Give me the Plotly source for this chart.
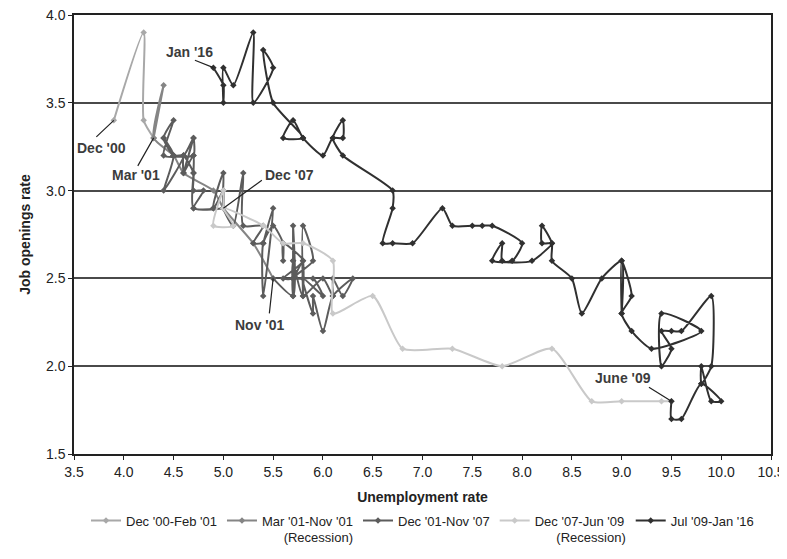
import plotly.graph_objects as go

# Dec '00 - Feb '01 (runs on to Mar '01)
u_s1 = [3.9, 4.2, 4.2, 4.3]
jo_s1 = [3.4, 3.9, 3.4, 3.3]

# Mar '01 - Nov '01 (Recession)
u_s2 = [4.3, 4.4, 4.3, 4.5, 4.6, 4.9, 5.0, 5.3, 5.5]
jo_s2 = [3.3, 3.6, 3.3, 3.2, 3.1, 3.0, 2.9, 2.7, 2.5]

# Dec '01 - Nov '07
u_s3 = [5.5, 5.7,
        5.7, 5.7, 5.7, 5.9, 5.8, 5.8, 5.8, 5.7, 5.7, 5.7, 5.9, 6.0,
        5.8, 5.9, 5.9, 6.0, 6.1, 6.3, 6.2, 6.1, 6.1, 6.0, 5.8, 5.7,
        5.7, 5.6, 5.8, 5.6, 5.6, 5.6, 5.5, 5.4, 5.4, 5.5, 5.4, 5.4,
        5.3, 5.4, 5.2, 5.2, 5.1, 5.0, 5.0, 4.9, 5.0, 5.0, 5.0, 4.9,
        4.7, 4.8, 4.7, 4.7, 4.6, 4.6, 4.7, 4.7, 4.5, 4.4, 4.5, 4.4,
        4.6, 4.5, 4.4, 4.5, 4.4, 4.6, 4.7, 4.6, 4.7, 4.7, 4.7, 5.0]
jo_s3 = [2.5, 2.4,
         2.8, 2.4, 2.5, 2.6, 2.8, 2.4, 2.6, 2.5, 2.6, 2.5, 2.5, 2.4,
         2.5, 2.3, 2.4, 2.2, 2.4, 2.5, 2.4, 2.5, 2.4, 2.5, 2.4, 2.6,
         2.5, 2.5, 2.6, 2.7, 2.6, 2.7, 2.8, 2.7, 2.4, 2.9, 2.7, 2.7,
         2.7, 2.8, 2.8, 3.1, 2.8, 2.9, 3.1, 2.9, 2.9, 2.9, 3.0, 2.9,
         2.9, 3.0, 3.0, 3.1, 3.2, 3.1, 3.3, 3.2, 3.2, 3.3, 3.2, 3.0,
         3.2, 3.2, 3.3, 3.4, 3.2, 3.2, 3.3, 3.1, 3.2, 3.1, 2.9, 2.9]

# Dec '07 - Jun '09 (Recession)
u_s4 = [5.0, 5.0, 4.9, 5.1, 5.0, 5.4, 5.6, 5.8, 6.1, 6.1, 6.5, 6.8, 7.3, 7.8, 8.3, 8.7, 9.0, 9.4, 9.5]
jo_s4 = [2.9, 3.0, 2.8, 2.8, 2.9, 2.8, 2.7, 2.7, 2.6, 2.3, 2.4, 2.1, 2.1, 2.0, 2.1, 1.8, 1.8, 1.8, 1.8]

# Jul '09 - Jan '16
u_s5 = [9.5, 9.5, 9.6, 9.8, 10.0, 9.9, 9.8, 9.8, 9.9, 9.9,
        9.6, 9.5, 9.4, 9.5, 9.4, 9.4, 9.8, 9.3, 9.1, 9.0, 9.1, 9.0, 9.0, 9.0,
        8.8, 8.6, 8.5, 8.3, 8.3, 8.2, 8.2, 8.3, 8.1, 7.8, 7.8, 7.7, 7.9, 8.0,
        7.7, 7.6, 7.5, 7.3, 7.2, 6.9, 6.7, 6.6, 6.7, 6.7,
        6.2, 6.1, 6.2, 6.2, 6.1, 6.0, 5.8, 5.7, 5.6, 5.8, 5.5, 5.4, 5.5,
        5.3, 5.3, 5.1, 5.0, 5.0, 5.0, 4.9]
jo_s5 = [1.8, 1.7, 1.7, 1.9, 1.8, 1.8, 2.0, 1.9, 2.0, 2.4,
         2.2, 2.2, 2.2, 2.1, 2.0, 2.3, 2.2, 2.1, 2.2, 2.3, 2.4, 2.6, 2.3, 2.6,
         2.5, 2.3, 2.5, 2.6, 2.7, 2.8, 2.7, 2.7, 2.6, 2.6, 2.7, 2.6, 2.6, 2.7,
         2.8, 2.8, 2.8, 2.8, 2.9, 2.7, 2.7, 2.7, 2.9, 3.0,
         3.2, 3.3, 3.4, 3.3, 3.3, 3.2, 3.3, 3.4, 3.3, 3.3, 3.5, 3.8, 3.7,
         3.5, 3.9, 3.6, 3.7, 3.5, 3.6, 3.7]

NB = "\u00a0"
series = [
    ("Dec '00-Feb '01", u_s1, jo_s1, "#a8a8a8"),
    ("Mar '01-Nov '01<br>" + NB * 6 + "(Recession)", u_s2, jo_s2, "#858585"),
    ("Dec '01-Nov '07", u_s3, jo_s3, "#5c5c5c"),
    ("Dec '07-Jun '09<br>" + NB * 6 + "(Recession)", u_s4, jo_s4, "#c9c9c9"),
    ("Jul '09-Jan '16", u_s5, jo_s5, "#303030"),
]

FONT = "Liberation Sans, Arial, sans-serif"

fig = go.Figure()
for name, u, jo, col in series:
    fig.add_trace(go.Scatter(
        x=u, y=jo, name=name, mode="lines+markers",
        line=dict(color=col, width=2, shape="spline", smoothing=0.6),
        marker=dict(symbol="diamond", size=5, color=col),
    ))

# labels and leader lines: (text, text_x, text_y, point_x, point_y, ax, ay)
labels = [
    ("Dec '00", 3.78, 3.24, 3.9, 3.4, -19, 18),
    ("Mar '01", 4.12, 3.09, 4.3, 3.3, -17, 30),
    ("Dec '07", 5.66, 3.09, 5.0, 2.9, 40, -29),
    ("Jan '16", 4.66, 3.79, 4.9, 3.7, -20, -8),
    ("Nov '01", 5.36, 2.235, 5.5, 2.5, -4, 37),
    ("June '09", 9.01, 1.93, 9.5, 1.8, -24, -15),
]
for txt, tx, ty, px, py, ax, ay in labels:
    fig.add_annotation(x=tx, y=ty, text="<b>%s</b>" % txt, showarrow=False,
                       font=dict(family=FONT, size=14, color="#3c3c3c"))
    fig.add_annotation(x=px, y=py, text=" ", showarrow=True, ax=ax, ay=ay,
                       arrowhead=0, arrowwidth=1.2, arrowcolor="#222222",
                       font=dict(size=1))

fig.update_layout(
    width=779, height=551,
    margin=dict(l=66, r=16, t=7, b=105, autoexpand=False),
    paper_bgcolor="white", plot_bgcolor="white",
    font=dict(family=FONT, size=14, color="#222222"),
    legend=dict(orientation="h", x=0.5, xanchor="center",
                yref="container", y=0.097, yanchor="top",
                font=dict(family=FONT, size=13, color="#222222"),
                itemwidth=30, valign="top", traceorder="normal"),
)
fig.update_xaxes(range=[3.5, 10.5], dtick=0.5, tickformat=".1f",
                 showgrid=False, zeroline=False,
                 showline=True, linecolor="#222222", linewidth=1.5, mirror=True,
                 ticks="outside", ticklen=4, tickcolor="#222222",
                 tickfont=dict(size=14),
                 title=dict(text="<b>Unemployment rate</b>", standoff=14,
                            font=dict(family=FONT, size=14)))
fig.update_yaxes(range=[1.5, 4.0], dtick=0.5, tickformat=".1f",
                 showgrid=True, gridcolor="#4a4a4a", gridwidth=1.5, zeroline=False,
                 showline=True, linecolor="#222222", linewidth=1.5, mirror=True,
                 ticks="outside", ticklen=4, tickcolor="#222222",
                 tickfont=dict(size=14), ticklabeloverflow="allow",
                 title=dict(text="<b>Job openings rate</b>", standoff=12,
                            font=dict(family=FONT, size=14)))

fig.write_html("out.html")
